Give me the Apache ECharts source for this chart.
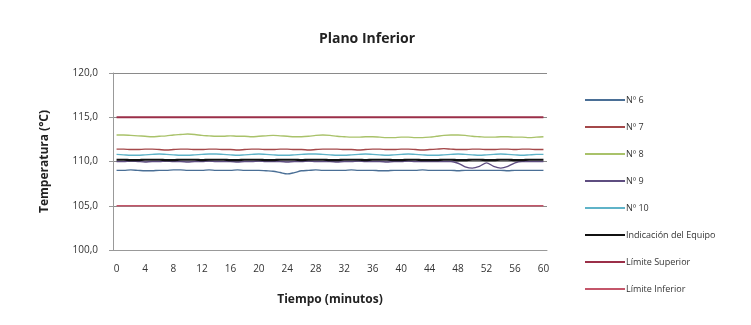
<!DOCTYPE html>
<html>
<head>
<meta charset="utf-8">
<script src="https://cdn.jsdelivr.net/npm/echarts@6/dist/echarts.min.js"></script>
<style>
  html, body { margin: 0; padding: 0; background: #ffffff; }
  #chart { width: 751px; height: 325px; }
</style>
</head>
<body>
<div id="chart"></div>
<script>
// Minutes 0..60
const minutes = [];
for (let m = 0; m <= 60; m++) minutes.push(String(m));

// Probe readings (°C), one per minute
const n6 = [109.0,109.0,109.05,109.0,108.95,108.95,109.0,109.0,109.05,109.05,109.0,109.0,109.0,109.05,109.0,109.0,109.0,109.05,109.0,109.0,109.0,108.95,108.9,108.75,108.6,108.75,108.95,109.0,109.05,109.0,109.0,109.0,109.0,109.05,109.0,109.0,109.0,108.95,108.95,109.0,109.0,109.0,109.0,109.05,109.0,109.0,109.0,109.0,108.95,109.0,109.0,109.0,109.0,109.0,109.0,108.95,109.0,109.0,109.0,109.0,109.0];
const n7 = [111.4,111.4,111.35,111.35,111.4,111.4,111.35,111.3,111.35,111.4,111.4,111.35,111.35,111.4,111.4,111.35,111.35,111.3,111.35,111.4,111.4,111.35,111.35,111.4,111.4,111.35,111.35,111.3,111.35,111.4,111.4,111.4,111.35,111.35,111.3,111.35,111.4,111.4,111.35,111.35,111.4,111.4,111.35,111.3,111.35,111.4,111.45,111.4,111.35,111.35,111.4,111.4,111.35,111.35,111.4,111.4,111.35,111.4,111.4,111.35,111.35];
const n8 = [113.0,113.0,112.95,112.9,112.85,112.8,112.85,112.9,113.0,113.05,113.1,113.05,112.95,112.9,112.85,112.85,112.9,112.85,112.85,112.8,112.85,112.9,112.95,112.9,112.85,112.8,112.8,112.85,112.95,113.0,112.95,112.85,112.8,112.75,112.75,112.8,112.8,112.75,112.7,112.7,112.75,112.75,112.7,112.7,112.75,112.85,112.95,113.0,113.0,112.95,112.85,112.8,112.75,112.75,112.8,112.8,112.75,112.75,112.7,112.75,112.8];
const n9 = [110.0,110.0,110.05,110.0,109.95,110.0,110.0,110.05,110.0,110.0,109.95,110.0,110.0,110.05,110.0,110.0,110.0,109.95,110.0,110.0,110.05,110.0,110.0,110.0,109.95,110.0,110.0,110.05,110.0,110.0,110.0,109.95,110.0,110.0,110.05,110.0,110.0,110.0,109.95,110.0,110.0,110.05,110.0,110.0,110.0,110.0,110.0,110.0,109.8,109.4,109.25,109.45,109.85,109.45,109.25,109.45,109.85,110.0,110.0,110.0,110.0];
const n10 = [110.8,110.75,110.7,110.7,110.75,110.8,110.85,110.8,110.75,110.7,110.7,110.75,110.8,110.85,110.85,110.8,110.75,110.7,110.75,110.8,110.85,110.8,110.75,110.7,110.7,110.75,110.8,110.85,110.85,110.8,110.75,110.7,110.7,110.75,110.8,110.85,110.8,110.75,110.7,110.75,110.8,110.85,110.8,110.75,110.7,110.7,110.75,110.8,110.85,110.8,110.75,110.7,110.75,110.8,110.85,110.8,110.75,110.7,110.75,110.8,110.8];
const equipo = [110.2,110.2,110.15,110.15,110.2,110.2,110.2,110.15,110.15,110.2,110.2,110.2,110.15,110.2,110.2,110.2,110.15,110.15,110.2,110.2,110.2,110.15,110.15,110.2,110.2,110.2,110.15,110.2,110.2,110.2,110.15,110.15,110.2,110.2,110.2,110.15,110.2,110.2,110.2,110.15,110.15,110.2,110.2,110.15,110.15,110.15,110.2,110.2,110.15,110.15,110.2,110.2,110.15,110.15,110.2,110.2,110.15,110.15,110.2,110.2,110.2];
const limSup = new Array(61).fill(115.0);
const limInf = new Array(61).fill(105.0);

const seriesNames = ['Nº 6','Nº 7','Nº 8','Nº 9','Nº 10','Indicación del Equipo','Límite Superior','Límite Inferior'];
const seriesData  = [n6, n7, n8, n9, n10, equipo, limSup, limInf];
const seriesColors = ['#4a6f96','#a4484a','#a9c26a','#5e4d80','#5fb3c8','#111111','#9b2f48','#c4566a'];
const seriesWidths = [1.4, 1.4, 1.4, 1.4, 1.4, 2.2, 2, 1.6];

const chart = echarts.init(document.getElementById('chart'));
const FONT = '"Open Sans", "DejaVu Sans", sans-serif';

chart.setOption({
  backgroundColor: '#ffffff',
  animation: false,
  title: {
    text: 'Plano Inferior',
    left: 362, top: 27, textAlign: 'center',
    textStyle: { fontFamily: FONT, fontSize: 14, fontWeight: 'bold', color: '#222' }
  },
  legend: {
    orient: 'vertical',
    left: 580, top: 89,
    icon: 'rect',
    itemWidth: 40, itemHeight: 2, itemGap: 15,
    data: seriesNames,
    textStyle: { fontFamily: FONT, fontSize: 9, lineHeight: 12, color: '#333', padding: [0, 0, 0, -4] }
  },
  grid: { left: 113, right: 204, top: 73, bottom: 75 },
  xAxis: {
    type: 'category',
    data: minutes,
    boundaryGap: true,
    name: 'Tiempo (minutos)',
    nameLocation: 'middle', nameGap: 44,
    nameTextStyle: { fontFamily: FONT, fontSize: 12, fontWeight: 'bold', color: '#222' },
    axisLine: { lineStyle: { color: '#999', width: 1 } },
    axisTick: { interval: 1, length: 4, lineStyle: { color: '#999' } },
    axisLabel: { interval: 3, fontFamily: FONT, fontSize: 10, color: '#333', margin: 14 }
  },
  yAxis: {
    type: 'value',
    min: 100, max: 120, interval: 5,
    name: 'Temperatura (°C)',
    nameLocation: 'middle', nameGap: 62,
    nameTextStyle: { fontFamily: FONT, fontSize: 12, fontWeight: 'bold', color: '#222' },
    axisLine: { show: true, lineStyle: { color: '#999' } },
    axisTick: { show: true, length: 4, lineStyle: { color: '#999' } },
    axisLabel: {
      fontFamily: FONT, fontSize: 10, color: '#333', margin: 15,
      formatter: v => v.toFixed(1).replace('.', ',')
    },
    splitLine: { show: true, lineStyle: { color: '#8a8a8a', width: 1 } }
  },
  series: seriesNames.map((name, i) => ({
    name,
    type: 'line',
    data: seriesData[i],
    symbol: 'none',
    smooth: 0.3,
    lineStyle: { color: seriesColors[i], width: seriesWidths[i] },
    itemStyle: { color: seriesColors[i] },
    z: i >= 5 ? 3 : 2
  }))
});
</script>
</body>
</html>
